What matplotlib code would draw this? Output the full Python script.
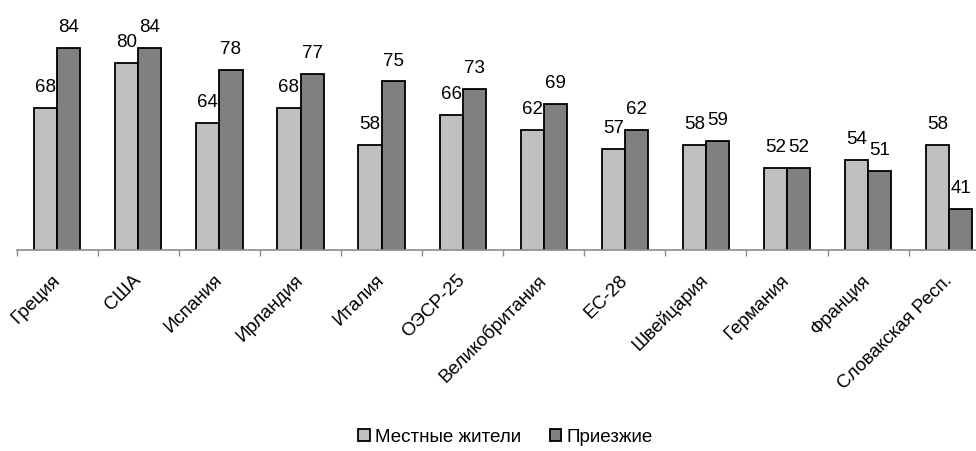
import numpy as np
import matplotlib.pyplot as plt
from matplotlib.ticker import FixedLocator, NullFormatter

plt.rcParams['font.family'] = ['Liberation Sans', 'DejaVu Sans']

countries = ['Греция', 'США', 'Испания', 'Ирландия', 'Италия', 'ОЭСР-25',
             'Великобритания', 'ЕС-28', 'Швейцария', 'Германия', 'Франция',
             'Словакская Респ.']
locals_ = [68, 80, 64, 68, 58, 66, 62, 57, 58, 52, 54, 58]
migrants = [84, 84, 78, 77, 75, 73, 69, 62, 59, 52, 51, 41]

fig = plt.figure(figsize=(9.76, 4.51), dpi=100)
ax = fig.add_axes([0.0171, 0.4457, 0.997, 0.5543])

x = np.arange(len(countries))
w = 0.285
b1 = ax.bar(x - w / 2, locals_, w, color='#c0c0c0', edgecolor='black',
            linewidth=1.3, label='Местные жители')
b2 = ax.bar(x + w / 2, migrants, w, color='#808080', edgecolor='black',
            linewidth=1.3, label='Приезжие')

for bars, vals in ((b1, locals_), (b2, migrants)):
    for r, v in zip(bars, vals):
        ax.annotate(str(v), (r.get_x() + r.get_width() / 2, v),
                    xytext=(0, 8.5), textcoords='offset points',
                    ha='center', va='bottom', fontsize=13.5)

ax.set_ylim(30, 96.7)
ax.set_xlim(-0.5, len(countries) - 0.5)

for s in ('top', 'right', 'left'):
    ax.spines[s].set_visible(False)
ax.spines['bottom'].set_color('#8c8c8c')
ax.spines['bottom'].set_linewidth(1.2)
ax.set_yticks([])

# tick marks sit between the country groups, names go under group centres
ax.xaxis.set_major_locator(FixedLocator(np.arange(-0.5, len(countries), 1.0)))
ax.xaxis.set_major_formatter(NullFormatter())
ax.tick_params(axis='x', which='major', length=4, color='#8c8c8c', width=1)
ax.set_xticks(x, minor=True)
ax.set_xticklabels(countries, minor=True, rotation=45, ha='right', va='center',
                   rotation_mode='anchor', fontsize=13.5)
ax.tick_params(axis='x', which='minor', length=0, pad=20)

fig.legend(handles=[b1, b2], loc='center', bbox_to_anchor=(0.518, 0.03),
           ncol=2, frameon=False, fontsize=13.5, handlelength=0.6,
           handleheight=0.6, handletextpad=0.3, columnspacing=1.5)

fig.savefig('out.png', dpi=100)
